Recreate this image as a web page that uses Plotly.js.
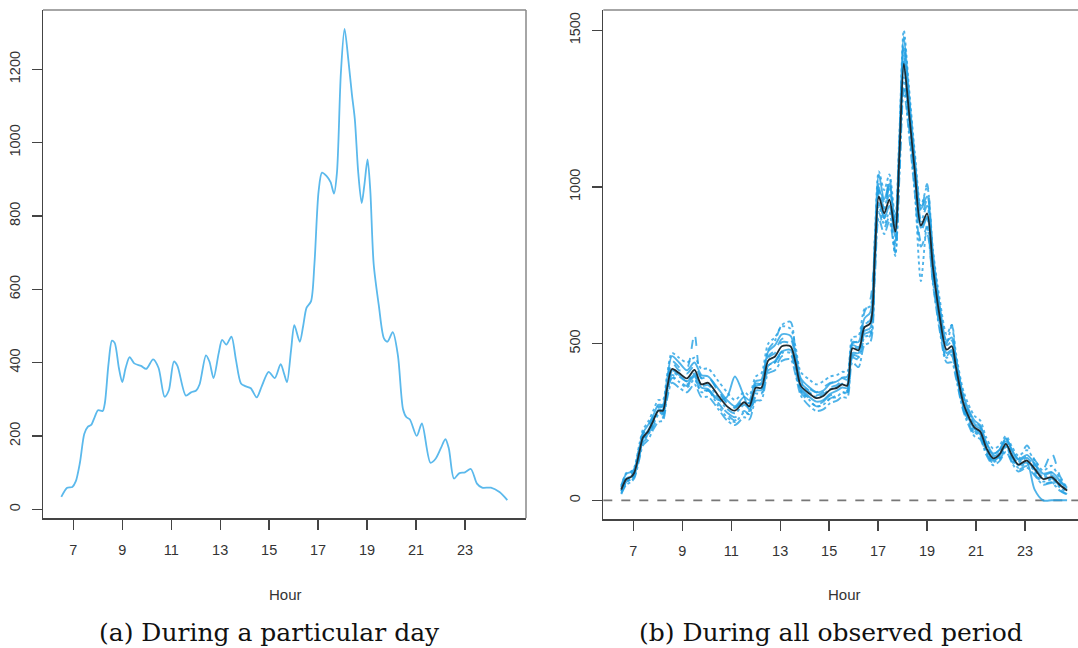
<!DOCTYPE html>
<html>
<head>
<meta charset="utf-8">
<script src="https://cdn.plot.ly/plotly-3.0.1.min.js"></script>
<style>html,body{margin:0;padding:0;background:#fff;}#chart{width:1078px;height:648px;}</style>
</head>
<body>
<div id="chart"></div>
<script>
// ---- Panel (a): one particular day ----
const hoursA = [6.51,6.75,6.96,7.1,7.27,7.45,7.59,7.73,7.87,8.01,8.2,8.29,8.44,8.58,8.69,8.86,9.0,9.14,9.3,9.49,9.77,9.98,10.26,10.48,10.73,10.9,11.11,11.25,11.6,11.81,12.02,12.16,12.42,12.56,12.73,12.94,13.08,13.25,13.46,13.64,13.85,14.02,14.25,14.49,14.7,14.98,15.23,15.47,15.61,15.73,15.9,16.03,16.25,16.39,16.53,16.71,16.85,17.02,17.16,17.34,17.51,17.65,17.77,17.93,18.08,18.24,18.38,18.5,18.64,18.78,18.89,19.02,19.13,19.27,19.48,19.69,19.83,20.05,20.26,20.47,20.61,20.75,21.03,21.24,21.59,21.8,22.01,22.2,22.34,22.55,22.76,23.0,23.24,23.49,23.7,24.06,24.41,24.73];
const countsA = [34,59,61,76,127,206,225,230,251,270,268,290,398,460,454,386,347,386,415,398,391,383,409,386,307,324,403,392,310,319,324,341,420,403,358,426,462,449,471,409,343,336,330,305,336,375,358,396,370,347,437,502,457,500,550,567,669,867,918,909,892,861,918,1189,1310,1223,1132,1064,918,835,884,954,872,669,556,466,457,483,420,273,251,245,200,234,127,138,166,191,166,84,98,101,110,70,59,59,47,25];

// ---- Panel (b): all observed days + mean ----
const hoursB = [6.51,6.72,6.9,7.04,7.25,7.39,7.6,7.81,8.02,8.21,8.37,8.58,8.87,9.19,9.5,9.78,10.06,10.48,10.83,11.15,11.53,11.74,12.0,12.23,12.51,12.79,13.07,13.42,13.63,13.84,14.2,14.48,14.76,15.04,15.32,15.53,15.74,15.95,16.2,16.44,16.68,16.86,17.03,17.25,17.46,17.7,17.87,18.05,18.26,18.5,18.75,19.0,19.24,19.52,19.8,20.01,20.18,20.5,20.93,21.17,21.42,21.7,21.96,22.22,22.48,22.73,23.08,23.39,23.74,24.09,24.44,24.72];
const meanB = [34,68,74,88,154,200,220,253,286,286,353,419,406,389,416,370,375,333,300,286,313,300,359,359,446,459,492,492,439,366,340,326,333,353,359,370,366,485,479,552,565,771,970,916,960,857,1102,1394,1241,1049,877,916,744,585,481,492,426,306,233,220,167,134,147,180,141,114,127,101,68,74,48,31];
const day1 = [48,85,90,100,170,215,240,270,305,305,380,460,440,415,440,400,395,355,320,300,330,320,380,385,475,495,530,525,470,390,360,345,350,372,380,390,385,505,505,580,600,820,1040,960,1010,880,1150,1480,1300,1090,930,970,790,620,510,520,455,330,255,240,185,150,162,198,160,130,145,118,85,90,62,40];
const day2 = [22,55,62,75,140,185,200,235,262,265,330,390,380,365,390,345,350,310,275,255,285,275,330,335,415,425,460,465,410,345,315,300,305,325,335,345,345,455,450,515,525,720,920,870,905,800,1050,1330,1190,1000,830,870,700,550,450,460,400,285,212,200,150,118,130,160,122,98,110,85,52,58,32,20];
const day3 = [40,75,80,95,165,210,230,262,295,300,360,440,415,420,530,390,395,345,310,295,320,310,365,370,455,470,505,500,450,375,350,335,345,360,368,380,375,495,490,565,575,790,990,930,975,870,1120,1420,1270,1080,920,1010,780,610,495,505,440,320,245,230,178,145,158,195,155,125,140,115,80,88,58,38];
const day4 = [30,62,70,84,148,195,215,248,280,282,345,410,395,380,405,365,368,325,292,278,305,295,365,375,480,510,560,570,470,375,345,330,338,355,362,372,370,490,485,560,575,780,990,930,1000,870,1110,1440,1260,1060,890,940,760,600,500,560,450,320,240,228,172,140,152,188,148,120,135,108,74,80,52,34];
const day5 = [36,70,76,90,155,200,222,255,288,290,350,415,400,380,400,360,355,320,330,395,330,290,350,352,430,445,475,480,430,360,330,315,320,340,350,360,358,470,470,540,550,750,950,900,940,840,1090,1380,1230,1040,870,905,735,575,470,480,415,300,228,215,162,130,142,175,138,112,120,35,0,0,0,0];
const day6 = [30,60,68,80,145,190,212,245,278,278,340,400,385,370,395,350,352,310,280,265,292,285,345,345,425,440,475,478,425,352,325,305,315,335,340,352,350,465,460,530,540,745,1000,900,1040,820,1080,1400,1230,1030,860,900,720,565,462,475,410,292,222,210,158,126,140,172,135,108,122,98,64,70,44,28];
const day7 = [28,58,66,80,142,188,208,240,272,275,335,395,378,360,385,345,350,300,265,250,280,275,340,340,430,440,470,470,420,350,320,300,305,325,330,345,340,460,455,520,530,740,940,880,920,780,1060,1350,1210,990,700,880,700,560,455,465,405,290,218,205,155,122,135,170,130,104,118,94,60,66,40,24];
const day8 = [42,80,86,98,165,212,235,268,300,300,370,445,425,405,430,390,392,350,312,296,320,310,372,372,460,478,515,515,455,382,355,345,360,375,380,392,395,500,510,600,640,800,1010,950,1000,880,1140,1460,1290,1090,900,960,770,610,500,510,450,325,250,235,182,148,160,195,160,132,175,130,100,150,75,45];
const day9 = [45,88,92,105,180,225,250,285,320,320,395,470,455,440,455,420,420,380,345,320,345,335,395,405,500,520,555,548,490,410,385,370,380,395,400,410,410,520,525,610,620,830,1050,990,1040,900,1170,1500,1320,1110,940,1000,800,640,530,560,470,345,270,255,200,165,175,205,170,142,160,128,95,110,68,42];
const day10 = [20,50,58,70,132,175,192,225,250,255,320,375,360,345,370,330,330,290,255,240,265,258,318,320,405,415,445,450,400,335,300,285,290,310,318,330,328,440,425,495,505,700,900,850,890,790,1030,1310,1170,980,810,850,690,540,440,440,390,280,205,195,145,112,125,155,118,92,104,80,50,55,30,18];
const dayCurves = [day1, day2, day3, day4, day5, day6, day7, day8, day9, day10];
const dayDash = ['solid','dash','dash','dashdot','solid','longdash','dot','dash','dot','dashdot'];

const xTicks = [7,9,11,13,15,17,19,21,23];
const yTicksA = [0,200,400,600,800,1000,1200];
const yTicksB = [0,500,1000,1500];

const traces = [];
traces.push({x: hoursA, y: countsA, xaxis:'x', yaxis:'y', mode:'lines',
  line:{color:'#5bb9ec', width:1.8, shape:'spline', smoothing:0.8}, hoverinfo:'skip'});
dayCurves.forEach((d, i) => {
  traces.push({x: hoursB, y: d, xaxis:'x2', yaxis:'y2', mode:'lines',
    line:{color:'rgba(35,160,228,0.8)', width:1.9, dash: dayDash[i], shape:'spline', smoothing:0.8}, hoverinfo:'skip'});
});
traces.push({x: hoursB, y: meanB, xaxis:'x2', yaxis:'y2', mode:'lines',
  line:{color:'#1e2a30', width:1.8, shape:'spline', smoothing:0.8}, hoverinfo:'skip'});

const tickFont = {family:'Liberation Sans, Arial, sans-serif', size:14.5, color:'#333'};
const W = 1078, H = 648;
const axBase = {showgrid:false, zeroline:false, showline:true, linecolor:'#444', linewidth:1.5,
  ticks:'outside', ticklen:10, tickwidth:1.3, tickcolor:'#444', tickfont:tickFont, fixedrange:true};

const layout = {
  width: W, height: H, autosize:false, showlegend:false,
  margin:{l:0, r:0, t:0, b:0, pad:0},
  paper_bgcolor:'#fff', plot_bgcolor:'#fff',
  xaxis: Object.assign({}, axBase, {domain:[43/W, 526/W], range:[5.762, 25.493], tickvals:xTicks, ticktext:xTicks.map(String), anchor:'y', ticklabelstandoff:8}),
  yaxis: Object.assign({}, axBase, {domain:[1-518.3/H, 1-10/H], range:[-24.5, 1361.6], tickvals:yTicksA, ticktext:yTicksA.map(String), tickangle:-90, anchor:'x', ticklabelstandoff:6}),
  xaxis2: Object.assign({}, axBase, {domain:[603.3/W, 1], range:[5.775, 25.166], tickvals:xTicks, ticktext:xTicks.map(String), anchor:'y2', ticklabelstandoff:8}),
  yaxis2: Object.assign({}, axBase, {domain:[1-519.3/H, 1-10/H], range:[-60.6, 1565], tickvals:yTicksB, ticktext:yTicksB.map(String), tickangle:-90, anchor:'x2', ticklabelstandoff:6}),
  shapes: [
    {type:'line', xref:'paper', yref:'paper', x0:43/W, x1:526/W, y0:1-10/H, y1:1-10/H, line:{color:'#888', width:1.5}},
    {type:'line', xref:'paper', yref:'paper', x0:526/W, x1:526/W, y0:1-10/H, y1:1-518.3/H, line:{color:'#888', width:1.5}},
    {type:'line', xref:'paper', yref:'paper', x0:603.3/W, x1:1, y0:1-10/H, y1:1-10/H, line:{color:'#888', width:1.5}},
    {type:'line', xref:'x2 domain', yref:'y2', x0:0, x1:1, y0:0, y1:0, line:{color:'#777', width:1.8, dash:'dash'}, layer:'below'}
  ],
  annotations: [
    {text:'Hour', xref:'paper', yref:'paper', x:285/W, y:1-594/H, showarrow:false, xanchor:'center', yanchor:'middle', font:{family:'Liberation Sans, Arial, sans-serif', size:15, color:'#333'}},
    {text:'Hour', xref:'paper', yref:'paper', x:844/W, y:1-594/H, showarrow:false, xanchor:'center', yanchor:'middle', font:{family:'Liberation Sans, Arial, sans-serif', size:15, color:'#333'}},
    {text:'(a) During a particular day', xref:'paper', yref:'paper', x:269/W, y:1-632/H, showarrow:false, xanchor:'center', yanchor:'middle', font:{family:'DejaVu Serif, serif', size:25, color:'#111'}},
    {text:'(b) During all observed period', xref:'paper', yref:'paper', x:831/W, y:1-632/H, showarrow:false, xanchor:'center', yanchor:'middle', font:{family:'DejaVu Serif, serif', size:25, color:'#111'}}
  ]
};

Plotly.newPlot('chart', traces, layout, {displayModeBar:false, staticPlot:true});
</script>
</body>
</html>
